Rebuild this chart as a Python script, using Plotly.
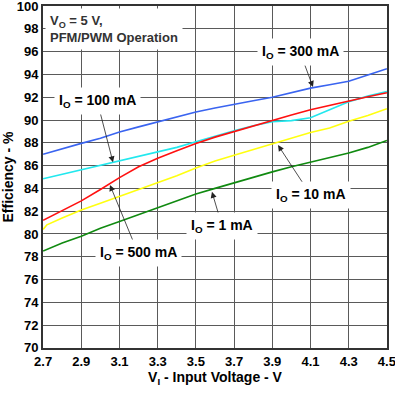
import plotly.graph_objects as go

voltage = [2.7, 2.8, 2.9, 3.0, 3.1, 3.2, 3.3, 3.4, 3.5, 3.6, 3.7, 3.8, 3.9, 4.0, 4.1, 4.2, 4.3, 4.4, 4.5]
eff_300mA = [87.0, 87.5, 87.95, 88.4, 88.95, 89.4, 89.85, 90.25, 90.7, 91.05, 91.4, 91.7, 92.0, 92.4, 92.8, 93.1, 93.4, 93.95, 94.5]
eff_100mA = [84.85, 85.25, 85.6, 86.0, 86.4, 86.8, 87.2, 87.6, 88.1, 88.6, 89.05, 89.5, 89.85, 89.95, 90.2, 90.9, 91.6, 92.1, 92.5]
eff_500mA = [81.2, 82.05, 82.9, 83.9, 84.95, 85.9, 86.65, 87.3, 87.95, 88.5, 89.0, 89.5, 90.0, 90.45, 90.9, 91.3, 91.7, 92.05, 92.4]
eff_10mA_v = [2.7, 2.72, 2.8, 2.9, 3.0, 3.1, 3.2, 3.3, 3.4, 3.5, 3.6, 3.7, 3.8, 3.9, 4.0, 4.1, 4.2, 4.3, 4.4, 4.5]
eff_10mA = [80.4, 80.8, 81.4, 82.1, 82.7, 83.3, 83.9, 84.5, 85.1, 85.8, 86.4, 86.9, 87.4, 87.9, 88.4, 88.9, 89.3, 89.9, 90.4, 91.0]
eff_1mA = [78.5, 79.2, 79.8, 80.5, 81.1, 81.7, 82.3, 82.9, 83.5, 84.0, 84.5, 85.0, 85.45, 85.9, 86.3, 86.7, 87.1, 87.6, 88.2]

x_ticks = [2.7, 2.9, 3.1, 3.3, 3.5, 3.7, 3.9, 4.1, 4.3, 4.5]
y_ticks = list(range(70, 101, 2))

font_family = "Liberation Sans, Arial, sans-serif"

fig = go.Figure()
series = [
    ("300 mA", voltage, eff_300mA, "#3a64f0"),
    ("100 mA", voltage, eff_100mA, "#22e8ee"),
    ("500 mA", voltage, eff_500mA, "#ff1010"),
    ("10 mA", eff_10mA_v, eff_10mA, "#ffff10"),
    ("1 mA", voltage, eff_1mA, "#108a10"),
]
for name, xs, ys, col in series:
    fig.add_trace(go.Scatter(x=xs, y=ys, mode="lines", name=name,
                             line=dict(color=col, width=1.6), showlegend=False))

# annotations: (label, arrow-head V, arrow-head E, text V, text E)
labels = [
    ("300", 4.113, 92.9, 4.045, 95.96),
    ("100", 3.066, 86.3, 2.983, 91.67),
    ("500", 3.05, 84.3, 3.197, 78.33),
    ("1", 3.584, 83.7, 3.637, 80.7),
    ("10", 3.93, 87.8, 4.102, 83.4),
]
for val, hx, hy, tx, ty in labels:
    fig.add_annotation(
        x=hx, y=hy, ax=tx, ay=ty, xref="x", yref="y", axref="x", ayref="y",
        text=f"<b>I<sub>O</sub> = {val} mA</b>",
        showarrow=True, arrowhead=2, arrowsize=1.5, arrowwidth=0.8, arrowcolor="#222",
        bgcolor="white", borderpad=4,
        font=dict(family=font_family, size=14, color="black"),
    )

fig.add_annotation(
    xref="paper", yref="paper", x=0.006, y=0.993, xanchor="left", yanchor="top",
    text="<b>V<sub>O</sub> = 5 V,<br>PFM/PWM Operation</b>", align="left",
    showarrow=False, bgcolor="white", borderpad=4,
    font=dict(family=font_family, size=13, color="#333"),
)

axis_common = dict(
    showgrid=True, gridcolor="#5a5a5a", gridwidth=1,
    showline=True, linecolor="#333", linewidth=2, mirror=True,
    ticks="", zeroline=False, automargin=False, ticklabeloverflow="allow",
    tickfont=dict(family=font_family, size=13, color="black"),
)
fig.update_xaxes(range=[2.6995, 4.5005], tickvals=x_ticks,
                 ticktext=[f"<b>{v:.1f}</b>" for v in x_ticks],
                 title=dict(text="<b>V<sub>I</sub> - Input Voltage - V</b>",
                            font=dict(family=font_family, size=14, color="black"), standoff=4),
                 **axis_common)
fig.update_yaxes(range=[69.99, 100.01], tickvals=y_ticks,
                 ticktext=[f"<b>{v}</b>" for v in y_ticks],
                 title=dict(text="<b>Efficiency - %</b>",
                            font=dict(family=font_family, size=14, color="black"), standoff=2),
                 **axis_common)

fig.update_layout(
    width=395, height=393,
    margin=dict(l=43, r=8, t=6, b=45),
    plot_bgcolor="white", paper_bgcolor="white",
)
fig.write_html("out.html", config={"displayModeBar": False},
               post_script="document.body.style.margin='0';")
